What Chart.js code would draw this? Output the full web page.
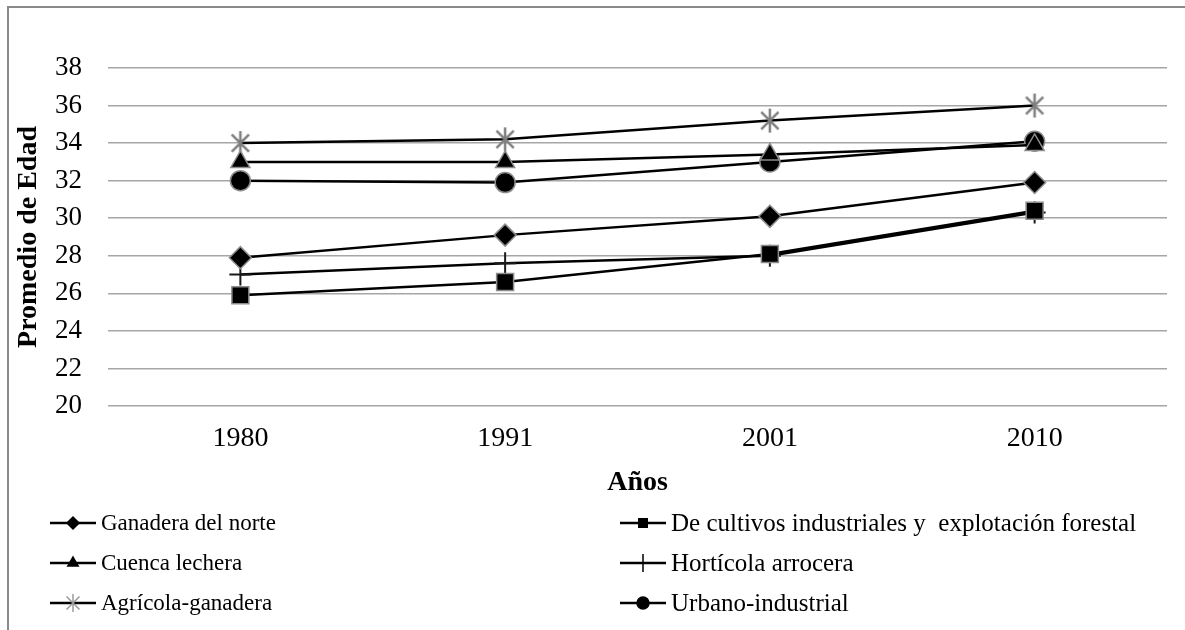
<!DOCTYPE html>
<html>
<head>
<meta charset="utf-8">
<title>Promedio de Edad</title>
<script src="https://cdn.jsdelivr.net/npm/chart.js@4.4.1/dist/chart.umd.min.js"></script>
<style>
  html, body { margin: 0; padding: 0; background: #fff; }
  #wrap { width: 1185px; height: 630px; }
</style>
</head>
<body>
<div id="wrap"><canvas id="edadChart" width="1185" height="630"></canvas></div>
<script>
// Datos
const years = ['1980', '1991', '2001', '2010'];
const ganadera = [27.9, 29.1, 30.1, 31.9];
const cultivos = [25.9, 26.6, 28.1, 30.4];
const cuenca = [33.0, 33.0, 33.4, 33.9];
const horticola = [27.0, 27.6, 28.0, 30.3];
const agricola = [34.0, 34.2, 35.2, 36.0];
const urbano = [32.0, 31.9, 33.0, 34.1];
const yTicks = [20, 22, 24, 26, 28, 30, 32, 34, 36, 38];

const serif = "'Liberation Serif', 'Times New Roman', serif";

// asterisco gris (6 brazos) como en Excel
function drawAsterisk(ctx, x, y, r, color, lw) {
    ctx.save();
    ctx.strokeStyle = color;
    ctx.lineWidth = lw;
    ctx.beginPath();
    ctx.moveTo(x, y - r); ctx.lineTo(x, y + r);
    const d = r * 0.72;
    ctx.moveTo(x - d, y - d); ctx.lineTo(x + d, y + d);
    ctx.moveTo(x - d, y + d); ctx.lineTo(x + d, y - d);
    ctx.stroke();
    ctx.restore();
}

function asteriskImage(r) {
    const c = document.createElement('canvas');
    c.width = r * 2 + 4;
    c.height = r * 2 + 4;
    drawAsterisk(c.getContext('2d'), c.width / 2, c.height / 2, r, '#7f7f7f', 2.5);
    return c;
}

const star = asteriskImage(12);

function serie(label, data, style, radius) {
    return {
        label: label,
        data: data,
        borderColor: '#000',
        borderWidth: 2.5,
        pointStyle: style,
        pointRadius: radius,
        pointBackgroundColor: '#000',
        pointBorderColor: '#8c8c8c',
        pointBorderWidth: 1.5,
        tension: 0,
        fill: false
    };
}

const datasets = [
    serie('Ganadera del norte', ganadera, 'rectRot', 11),
    serie('De cultivos industriales y  explotación forestal', cultivos, 'rect', 12),
    serie('Cuenca lechera', cuenca, 'triangle', 11),
    serie('Hortícola arrocera', horticola, 'cross', 11),
    serie('Agrícola-ganadera', agricola, star, 12),
    serie('Urbano-industrial', urbano, 'circle', 10)
];
datasets[3].pointBorderColor = '#1a1a1a';
datasets[3].pointBorderWidth = 2;

// marco gris + leyenda en dos columnas
const framePlugin = {
    id: 'frame',
    afterDraw(chart) {
        const ctx = chart.ctx;
        ctx.save();
        ctx.strokeStyle = '#8a8a8a';
        ctx.lineWidth = 2;
        ctx.beginPath();
        ctx.moveTo(8, 630);
        ctx.lineTo(8, 7);
        ctx.lineTo(1185, 7);
        ctx.stroke();

        const cols = [50, 620];
        const sizes = [23, 25];
        const rows = [523, 563, 603];
        ctx.textBaseline = 'middle';
        ctx.fillStyle = '#000';
        chart.data.datasets.forEach((ds, i) => {
            const x = cols[i % 2];
            const y = rows[Math.floor(i / 2)];
            ctx.strokeStyle = '#000';
            ctx.lineWidth = 2.5;
            ctx.beginPath();
            ctx.moveTo(x, y);
            ctx.lineTo(x + 46, y);
            ctx.stroke();
            if (ds.pointStyle === star) {
                drawAsterisk(ctx, x + 23, y, 9, '#9a9a9a', 1.5);
            } else {
                ctx.fillStyle = '#000';
                ctx.strokeStyle = '#000';
                ctx.lineWidth = 1.5;
                Chart.helpers.drawPoint(ctx, {
                    pointStyle: ds.pointStyle,
                    radius: ds.pointStyle === 'cross' ? 9 : 6,
                    rotation: 0,
                    borderWidth: 1.5
                }, x + 23, y);
            }
            ctx.font = sizes[i % 2] + 'px ' + serif;
            ctx.fillStyle = '#000';
            ctx.fillText(ds.label, x + 51, y + 1);
        });
        ctx.restore();
    }
};

new Chart(document.getElementById('edadChart'), {
    type: 'line',
    data: { labels: years, datasets: datasets },
    options: {
        responsive: false,
        animation: false,
        layout: { padding: { left: 0, top: 68, right: 18, bottom: 124 } },
        plugins: {
            legend: { display: false },
            tooltip: { enabled: false }
        },
        scales: {
            x: {
                offset: true,
                grid: { display: false, drawTicks: false },
                border: { display: false },
                ticks: { color: '#000', padding: 16, font: { family: serif, size: 28 } },
                title: {
                    display: true,
                    text: 'Años',
                    color: '#000',
                    padding: { top: 0, bottom: 6 },
                    font: { family: serif, size: 28, weight: 'bold' }
                },
                afterFit(scale) { scale.height = 100; }
            },
            y: {
                min: 20,
                max: 38,
                afterBuildTicks(scale) { scale.ticks = yTicks.map(v => ({ value: v })); },
                grid: { color: '#a6a6a6', lineWidth: 1.5, drawTicks: false },
                border: { display: false },
                ticks: { color: '#000', padding: 26, font: { family: serif, size: 27 } },
                title: {
                    display: true,
                    text: 'Promedio de Edad',
                    color: '#000',
                    padding: { top: 12, bottom: 0 },
                    font: { family: serif, size: 28, weight: 'bold' }
                },
                afterFit(scale) { scale.width = 108; }
            }
        }
    },
    plugins: [framePlugin]
});
</script>
</body>
</html>
